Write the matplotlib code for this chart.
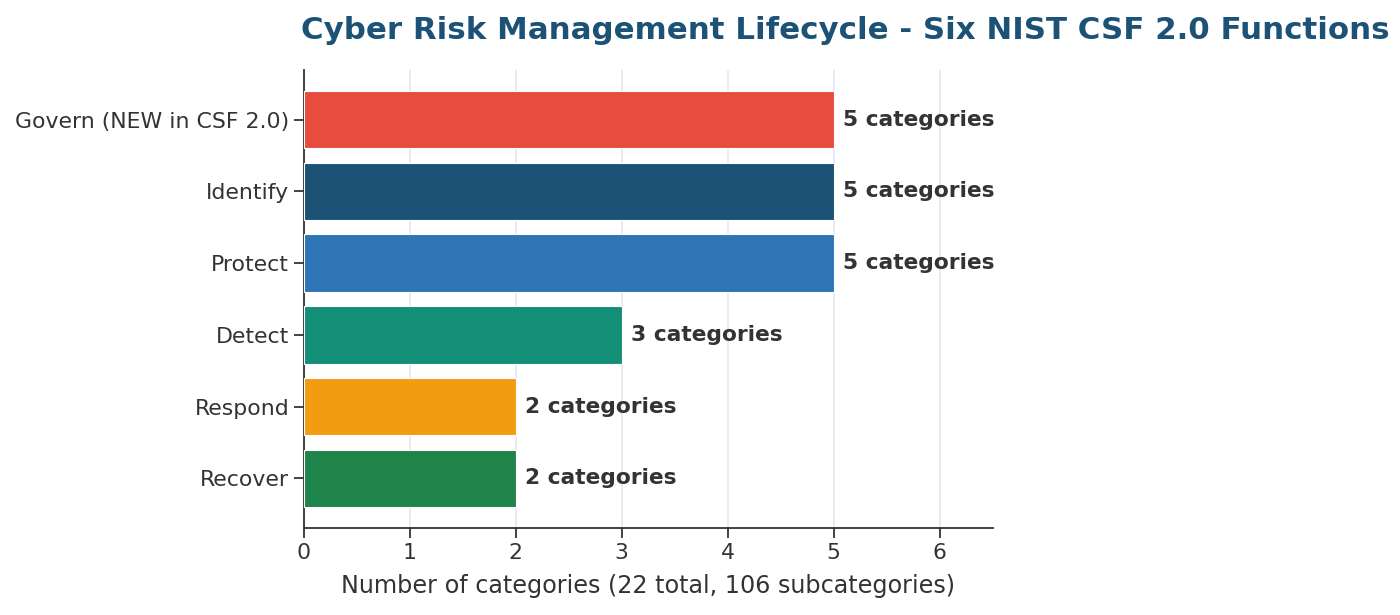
import matplotlib.pyplot as plt

functions = ["Govern (NEW in CSF 2.0)", "Identify", "Protect", "Detect", "Respond", "Recover"]
n_categories = [5, 5, 5, 3, 2, 2]
colors = ["#e74c3c", "#1b5276", "#2e75b6", "#148f77", "#f39c12", "#1e8449"]

TEXT = "#333333"

fig = plt.figure(figsize=(14, 6.15), dpi=100)
ax = fig.add_axes([0.217, 0.1415, 0.492, 0.7445])

y = list(range(len(functions)))
ax.barh(y, n_categories, height=0.8, color=colors, edgecolor="white", linewidth=0.8, zorder=3)
ax.invert_yaxis()

for yi, v in zip(y, n_categories):
    ax.text(v + 0.09, yi, f"{v} categories", va="center", ha="left",
            fontsize=15.7, fontweight="bold", color=TEXT)

ax.set_xlim(0, 6.5)
ax.set_xticks(range(7))
ax.set_yticks(y)
ax.set_yticklabels(functions)
ax.tick_params(axis="both", labelsize=15.8, colors=TEXT, length=7, width=1.3)
ax.xaxis.grid(True, color="#e6e6f2", linewidth=1.2, zorder=0)
ax.set_axisbelow(True)
for s in ["top", "right"]:
    ax.spines[s].set_visible(False)
for s in ["left", "bottom"]:
    ax.spines[s].set_color(TEXT)
    ax.spines[s].set_linewidth(1.3)

ax.set_xlabel("Number of categories (22 total, 106 subcategories)", fontsize=17.2, color=TEXT, labelpad=8)

fig.text(0.6035, 0.95, "Cyber Risk Management Lifecycle - Six NIST CSF 2.0 Functions",
         ha="center", va="center", fontsize=22.2, fontweight="bold", color="#1b5276")

fig.savefig("out.png", dpi=100, facecolor="white")
